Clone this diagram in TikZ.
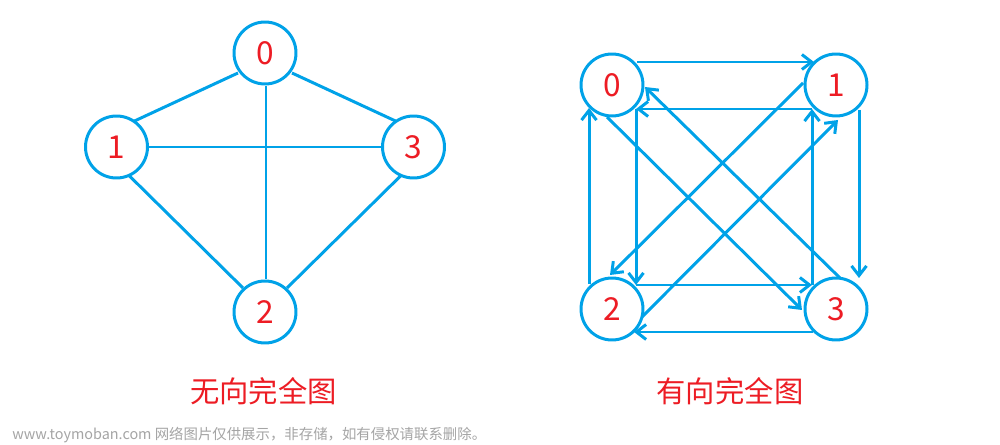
\documentclass[tikz,border=0pt]{standalone}
\usepackage{fontspec}
\setmainfont{Noto Sans CJK SC}
\usetikzlibrary{arrows.meta,calc}
\definecolor{eblue}{RGB}{0,162,232}
\definecolor{lred}{RGB}{237,28,36}
\definecolor{wgray}{RGB}{165,165,165}
\begin{document}
\begin{tikzpicture}[x=0.02cm,y=-0.02cm,
  vtx/.style={circle,draw=eblue,line width=1.7pt,minimum size=1.24cm,inner sep=0pt,text=lred,font=\fontsize{18}{18}\selectfont},
  link/.style={draw=eblue,line width=1.7pt},
  darrow/.style={link,-{Straight Barb[length=5.5pt,width=8.5pt]}},
  title/.style={text=lred,font=\fontsize{16.7}{17}\selectfont,inner sep=0pt},
]
\path[fill=white,use as bounding box] (0,0) rectangle (1000,445);

% undirected complete graph
\node[vtx] (u0) at (265,53) {0};
\node[vtx] (u1) at (116.5,147) {1};
\node[vtx] (u3) at (413.5,147) {3};
\node[vtx] (u2) at (265,312) {2};
\draw[link] ($(u0)+(-27,20)$) -- ($(u1)+(18,-26)$);
\draw[link] ($(u0)+(27,20)$) -- ($(u3)+(-18,-26)$);
\draw[link] ($(u0)+(1,33)$) -- ($(u2)+(1,-33)$);
\draw[link] (u1) -- (u3);
\draw[link] ($(u1)+(13,29)$) -- ($(u2)+(-22,-24)$);
\draw[link] ($(u3)+(-13,29)$) -- ($(u2)+(22,-24)$);

% directed complete graph
\node[vtx] (d0) at (612,85) {0};
\node[vtx] (d1) at (836,85) {1};
\node[vtx] (d2) at (612,309) {2};
\node[vtx] (d3) at (836,309) {3};
\coordinate (c0) at ($(d0)+(24,24)$);
\coordinate (c1) at ($(d1)+(-24,24)$);
\coordinate (c2) at ($(d2)+(24,-24)$);
\coordinate (c3) at ($(d3)+(-24,-24)$);
% outer square
\draw[darrow] ($(d0)+(25,-23)$) -- ($(d1)+(-22,-23)$);
\draw[darrow] ($(d1)+(23,25)$) -- ($(d3)+(23,-31)$);
\draw[darrow] ($(d3)+(-23,23)$) -- ($(d2)+(22,23)$);
\draw[darrow] ($(d2)+(-23,-25)$) -- ($(d0)+(-23,23)$);
% inner square
\draw[darrow] (c1) -- (c0);
\draw[darrow] (c3) -- (c1);
\draw[darrow] (c0) -- (c2);
\draw[darrow] (c2) -- (c3);
% diagonals
\draw[darrow] ($(d1)+(-33,-2)$) -- ($(d2)+(-2,-34)$);
\draw[darrow] ($(d2)+(30,8)$) -- ($(d1)+(2,35)$);
\draw[darrow] ($(d0)+(-5,32)$) -- ($(d3)+(-34,1)$);
\draw[darrow] ($(d3)+(4,-31)$) -- ($(d0)+(33,2)$);

% titles
\node[title] (t1) at (263.5,391) {无向完全图};
\node[title] (t2) at (730,391) {有向完全图};

% watermark
\node[anchor=west,text=wgray,font=\fontsize{8.2}{9}\selectfont,inner sep=0pt] (wm) at (12,435) {www.toymoban.com 网络图片仅供展示，非存储，如有侵权请联系删除。};
\end{tikzpicture}
\end{document}
